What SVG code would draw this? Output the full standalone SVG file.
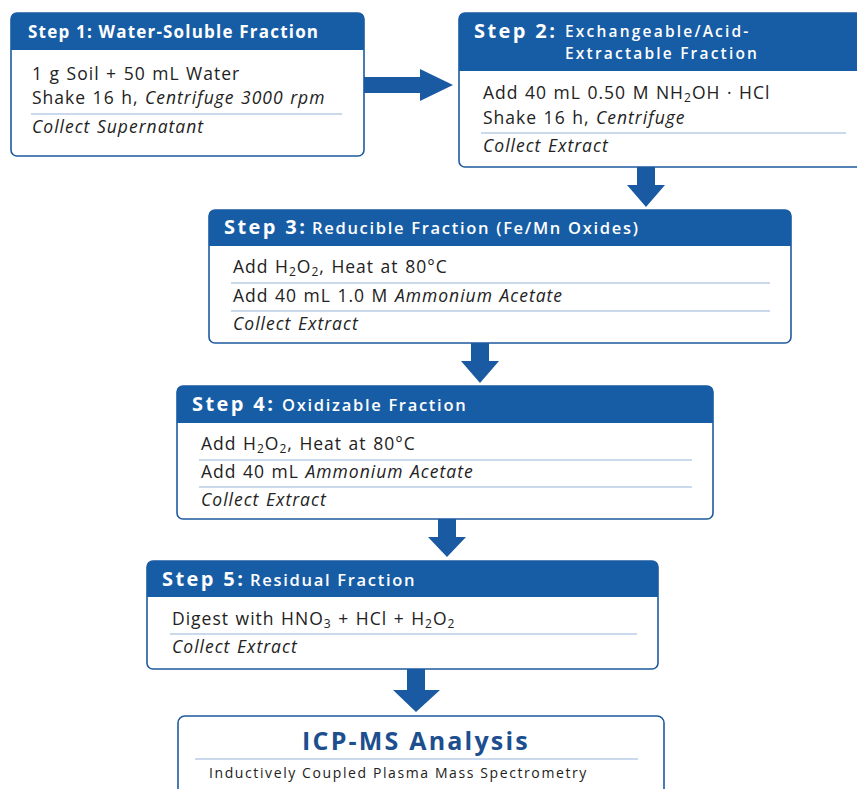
<svg xmlns="http://www.w3.org/2000/svg" width="857" height="789" viewBox="0 0 857 789">
<style>
.box{fill:#fff;stroke:#1d5a9e;stroke-width:1.6}
.hdr{fill:#175da6}
.sep{stroke:#b9cde4;stroke-width:1.3}
.ht{font-family:"Open Sans",sans-serif;font-weight:700;fill:#fff;font-size:20px;letter-spacing:2.4px}
.h1{font-family:"Open Sans",sans-serif;font-weight:700;fill:#fff;font-size:17px;letter-spacing:1.2px}
.hs{font-family:"Open Sans",sans-serif;font-weight:600;fill:#fff;font-size:16.5px;letter-spacing:1.7px}
.hs2{font-family:"Open Sans",sans-serif;font-weight:600;fill:#fff;font-size:15.5px;letter-spacing:2.2px}
.bt{font-family:"Open Sans",sans-serif;font-size:17.5px;letter-spacing:1px;word-spacing:1px;fill:#222}
.it{font-style:italic}
.arr{fill:#1a5aa3}
</style>
<rect width="857" height="789" fill="#fff"/>
<g id="connectors">
<polygon class="arr" points="364,77 420,77 420,69 453,85 420,101 420,93 364,93"/>
<polygon class="arr" points="637,167 655,167 655,185 665,185 646,207 627,185 637,185"/>
<polygon class="arr" points="471,343 489,343 489,361 499,361 480,383 461,361 471,361"/>
<polygon class="arr" points="438,519 456,519 456,537 466,537 447,557 428,537 438,537"/>
<polygon class="arr" points="407,669 425,669 425,690 440,690 416,712 393,690 407,690"/>
</g>
<g id="step1">
<rect class="box" x="11" y="13" width="353" height="143" rx="6"/>
<path class="hdr" d="M11,50 V19 Q11,13 17,13 H358 Q364,13 364,19 V50 Z"/>
<text class="h1" x="28" y="38">Step 1: Water-Soluble Fraction</text>
<text class="bt" x="32" y="80">1 g Soil + 50 mL Water</text>
<text class="bt" x="32" y="104">Shake 16 h, <tspan class="it">Centrifuge 3000 rpm</tspan></text>
<line class="sep" x1="31" y1="114" x2="342" y2="114"/>
<text class="bt it" x="32" y="133">Collect Supernatant</text>
</g>
<g id="step2">
<rect class="box" x="459" y="13" width="420" height="154" rx="6"/>
<path class="hdr" d="M459,71 V19 Q459,13 465,13 H879 V71 Z"/>
<text class="ht" x="474" y="38">Step 2:</text>
<text class="hs2" x="565" y="37">Exchangeable/Acid-</text>
<text class="hs2" x="565" y="59">Extractable Fraction</text>
<text class="bt" x="483" y="99">Add 40 mL 0.50 M NH<tspan font-size="12" dy="3">2</tspan><tspan dy="-3">OH · HCl</tspan></text>
<text class="bt" x="483" y="124">Shake 16 h, <tspan class="it">Centrifuge</tspan></text>
<line class="sep" x1="481" y1="133" x2="846" y2="133"/>
<text class="bt it" x="483" y="152">Collect Extract</text>
</g>
<g id="step3">
<rect class="box" x="209" y="210" width="582" height="133" rx="6"/>
<path class="hdr" d="M209,246 V216 Q209,210 215,210 H785 Q791,210 791,216 V246 Z"/>
<text class="ht" x="224" y="234">Step 3:</text>
<text class="hs" x="312" y="234">Reducible Fraction (Fe/Mn Oxides)</text>
<text class="bt" x="233" y="273">Add H<tspan font-size="12" dy="3">2</tspan><tspan dy="-3">O</tspan><tspan font-size="12" dy="3">2</tspan><tspan dy="-3">, Heat at 80°C</tspan></text>
<line class="sep" x1="231" y1="283" x2="770" y2="283"/>
<text class="bt" x="233" y="302">Add 40 mL 1.0 M <tspan class="it">Ammonium Acetate</tspan></text>
<line class="sep" x1="231" y1="311" x2="770" y2="311"/>
<text class="bt it" x="233" y="330">Collect Extract</text>
</g>
<g id="step4">
<rect class="box" x="177" y="386" width="536" height="133" rx="6"/>
<path class="hdr" d="M177,423 V392 Q177,386 183,386 H707 Q713,386 713,392 V423 Z"/>
<text class="ht" x="192" y="411">Step 4:</text>
<text class="hs" x="282" y="411">Oxidizable Fraction</text>
<text class="bt" x="201" y="450">Add H<tspan font-size="12" dy="3">2</tspan><tspan dy="-3">O</tspan><tspan font-size="12" dy="3">2</tspan><tspan dy="-3">, Heat at 80°C</tspan></text>
<line class="sep" x1="199" y1="460" x2="692" y2="460"/>
<text class="bt" x="201" y="478">Add 40 mL <tspan class="it">Ammonium Acetate</tspan></text>
<line class="sep" x1="199" y1="487" x2="692" y2="487"/>
<text class="bt it" x="201" y="506">Collect Extract</text>
</g>
<g id="step5">
<rect class="box" x="147" y="561" width="511" height="108" rx="6"/>
<path class="hdr" d="M147,597 V567 Q147,561 153,561 H652 Q658,561 658,567 V597 Z"/>
<text class="ht" x="162" y="586">Step 5:</text>
<text class="hs" x="250" y="586">Residual Fraction</text>
<text class="bt" x="172" y="625">Digest with HNO<tspan font-size="12" dy="3">3</tspan><tspan dy="-3"> + HCl + H</tspan><tspan font-size="12" dy="3">2</tspan><tspan dy="-3">O</tspan><tspan font-size="12" dy="3">2</tspan></text>
<line class="sep" x1="170" y1="634" x2="637" y2="634"/>
<text class="bt it" x="172" y="653">Collect Extract</text>
</g>
<g id="icpms">
<rect class="box" x="178" y="716" width="486" height="100" rx="7"/>
<text x="416" y="750" text-anchor="middle" font-family="Open Sans, sans-serif" font-weight="700" font-size="25" letter-spacing="2.2" fill="#1d4f8f">ICP-MS Analysis</text>
<line class="sep" x1="195" y1="759" x2="638" y2="759"/>
<text x="209" y="778" font-family="Open Sans, sans-serif" font-size="14" letter-spacing="1.6" fill="#222">Inductively Coupled Plasma Mass Spectrometry</text>
</g>
</svg>
